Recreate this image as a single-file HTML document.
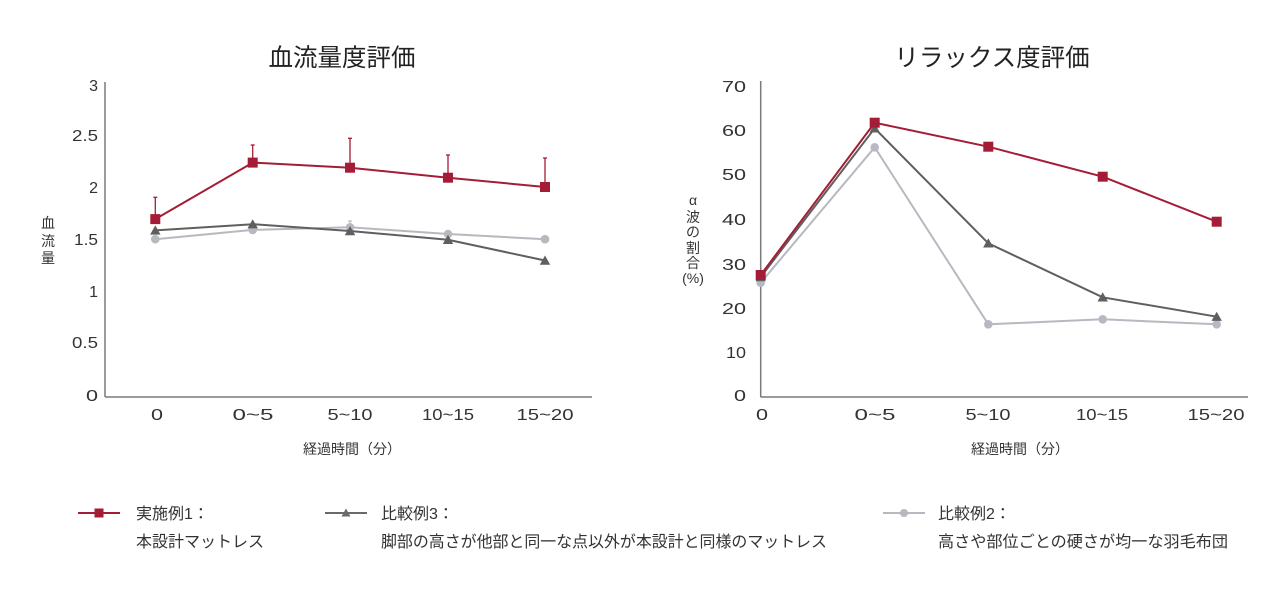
<!DOCTYPE html>
<html><head><meta charset="utf-8">
<style>
html,body{margin:0;padding:0;background:#fff;}
svg{display:block;}
.t{font-family:"Liberation Sans","Noto Sans CJK JP",sans-serif;}
</style></head>
<body>
<svg width="1280" height="600" viewBox="0 0 1280 600" xmlns="http://www.w3.org/2000/svg">
<g class="t">
<!-- Titles -->
<text x="342" y="66" font-size="24.5" text-anchor="middle" fill="#222" class="t">血流量度評価</text>
<text x="992" y="66" font-size="24.5" text-anchor="middle" fill="#222" class="t">リラックス度評価</text>

<!-- LEFT CHART axes -->
<line x1="105" y1="82" x2="105" y2="397" stroke="#7a7a7a" stroke-width="1.5"/>
<line x1="105" y1="397" x2="592" y2="397" stroke="#7a7a7a" stroke-width="1.5"/>
<g font-size="16" fill="#333" text-anchor="end" class="t">
<text x="98" y="91">3</text>
<text x="98" y="141" textLength="26" lengthAdjust="spacingAndGlyphs">2.5</text>
<text x="98" y="193">2</text>
<text x="98" y="245" textLength="24" lengthAdjust="spacingAndGlyphs">1.5</text>
<text x="98" y="297">1</text>
<text x="98" y="348" textLength="26" lengthAdjust="spacingAndGlyphs">0.5</text>
<text x="98" y="401" textLength="12" lengthAdjust="spacingAndGlyphs">0</text>
</g>
<g font-size="16" fill="#333" text-anchor="middle" class="t">
<text x="157" y="420" textLength="12" lengthAdjust="spacingAndGlyphs">0</text>
<text x="253" y="420" textLength="41" lengthAdjust="spacingAndGlyphs">0~5</text>
<text x="350" y="420" textLength="45" lengthAdjust="spacingAndGlyphs">5~10</text>
<text x="448" y="420" textLength="52" lengthAdjust="spacingAndGlyphs">10~15</text>
<text x="545" y="420" textLength="57" lengthAdjust="spacingAndGlyphs">15~20</text>
</g>
<text x="352" y="454" font-size="14" text-anchor="middle" fill="#333" class="t">経過時間（分）</text>
<g font-size="14" fill="#333" text-anchor="middle" class="t">
<text x="48" y="228">血</text>
<text x="48" y="246">流</text>
<text x="48" y="263">量</text>
</g>

<!-- left error bars -->
<g stroke="#a51c36" stroke-width="1.3">
<line x1="155.3" y1="219" x2="155.3" y2="197.3"/><line x1="153.3" y1="197.3" x2="157.3" y2="197.3"/>
<line x1="252.7" y1="162.6" x2="252.7" y2="145"/><line x1="250.7" y1="145" x2="254.7" y2="145"/>
<line x1="350" y1="167.7" x2="350" y2="138.3"/><line x1="348" y1="138.3" x2="352" y2="138.3"/>
<line x1="448" y1="177.7" x2="448" y2="155"/><line x1="446" y1="155" x2="450" y2="155"/>
<line x1="545" y1="187" x2="545" y2="158"/><line x1="543" y1="158" x2="547" y2="158"/>
</g>
<g stroke="#c0c0c8" stroke-width="1.3">
<line x1="350" y1="227" x2="350" y2="221"/><line x1="348" y1="221" x2="352" y2="221"/>
</g>

<!-- left light series -->
<polyline points="155.3,239.2 252.7,229.9 350,227.3 448,234 545,239.2" fill="none" stroke="#b8b8c0" stroke-width="2"/>
<g fill="#b8b8c0">
<circle cx="155.3" cy="239.2" r="4.3"/><circle cx="252.7" cy="229.9" r="4.3"/><circle cx="350" cy="227.3" r="4.3"/><circle cx="448" cy="234" r="4.3"/><circle cx="545" cy="239.2" r="4.3"/>
</g>
<!-- left dark series -->
<polyline points="155.3,230.4 252.7,224.2 350,231 448,239.8 545,260.5" fill="none" stroke="#5f5f5f" stroke-width="2"/>
<g fill="#5f5f5f">
<polygon points="155.3,225.4 160.5,234.6 150.1,234.6"/>
<polygon points="252.7,219.2 257.9,228.4 247.5,228.4"/>
<polygon points="350,226 355.2,235.2 344.8,235.2"/>
<polygon points="448,234.8 453.2,244 442.8,244"/>
<polygon points="545,255.5 550.2,264.7 539.8,264.7"/>
</g>
<!-- left red series -->
<polyline points="155.3,219.1 252.7,162.6 350,167.7 448,177.7 545,187" fill="none" stroke="#a51c36" stroke-width="2"/>
<g fill="#a51c36">
<rect x="150.3" y="214.1" width="10" height="10"/>
<rect x="247.7" y="157.6" width="10" height="10"/>
<rect x="345" y="162.7" width="10" height="10"/>
<rect x="443" y="172.7" width="10" height="10"/>
<rect x="540" y="182" width="10" height="10"/>
</g>

<!-- RIGHT CHART axes -->
<line x1="760.7" y1="81" x2="760.7" y2="397" stroke="#7a7a7a" stroke-width="1.5"/>
<line x1="760.7" y1="397" x2="1248" y2="397" stroke="#7a7a7a" stroke-width="1.5"/>
<g font-size="16" fill="#333" text-anchor="end" class="t">
<text x="746" y="92" textLength="24" lengthAdjust="spacingAndGlyphs">70</text>
<text x="746" y="136" textLength="24" lengthAdjust="spacingAndGlyphs">60</text>
<text x="746" y="180" textLength="24" lengthAdjust="spacingAndGlyphs">50</text>
<text x="746" y="225" textLength="24" lengthAdjust="spacingAndGlyphs">40</text>
<text x="746" y="270" textLength="24" lengthAdjust="spacingAndGlyphs">30</text>
<text x="746" y="314" textLength="24" lengthAdjust="spacingAndGlyphs">20</text>
<text x="746" y="358" textLength="20" lengthAdjust="spacingAndGlyphs">10</text>
<text x="746" y="401" textLength="12" lengthAdjust="spacingAndGlyphs">0</text>
</g>
<g font-size="16" fill="#333" text-anchor="middle" class="t">
<text x="762" y="420" textLength="12" lengthAdjust="spacingAndGlyphs">0</text>
<text x="875" y="420" textLength="41" lengthAdjust="spacingAndGlyphs">0~5</text>
<text x="988" y="420" textLength="45" lengthAdjust="spacingAndGlyphs">5~10</text>
<text x="1102" y="420" textLength="52" lengthAdjust="spacingAndGlyphs">10~15</text>
<text x="1216" y="420" textLength="57" lengthAdjust="spacingAndGlyphs">15~20</text>
</g>
<text x="1020" y="454" font-size="14" text-anchor="middle" fill="#333" class="t">経過時間（分）</text>
<g font-size="14" fill="#333" text-anchor="middle" class="t">
<text x="693" y="205">α</text>
<text x="693" y="222">波</text>
<text x="693" y="237">の</text>
<text x="693" y="253">割</text>
<text x="693" y="268">合</text>
<text x="693" y="283" font-size="14">(%)</text>
</g>

<!-- right light -->
<polyline points="760.7,282.7 874.7,147.3 988.3,324.3 1102.7,319.3 1216.7,324.3" fill="none" stroke="#b8b8c0" stroke-width="2"/>
<g fill="#b8b8c4">
<circle cx="760.7" cy="282.7" r="4.3"/><circle cx="874.7" cy="147.3" r="4.3"/><circle cx="988.3" cy="324.3" r="4.3"/><circle cx="1102.7" cy="319.3" r="4.3"/><circle cx="1216.7" cy="324.3" r="4.3"/>
</g>
<!-- right dark -->
<polyline points="760.7,277 874.7,128.3 988.3,243.3 1102.7,297.3 1216.7,316.7" fill="none" stroke="#5f5f5f" stroke-width="2"/>
<g fill="#5f5f5f">
<polygon points="760.7,272 765.9,281.2 755.5,281.2"/>
<polygon points="874.7,123.3 879.9,132.5 869.5,132.5"/>
<polygon points="988.3,238.3 993.5,247.5 983.1,247.5"/>
<polygon points="1102.7,292.3 1107.9,301.5 1097.5,301.5"/>
<polygon points="1216.7,311.7 1221.9,320.9 1211.5,320.9"/>
</g>
<!-- right red -->
<polyline points="760.7,275 874.7,122.7 988.3,146.7 1102.7,176.7 1216.7,221.7" fill="none" stroke="#a51c36" stroke-width="2"/>
<g fill="#a51c36">
<rect x="755.7" y="270" width="10" height="10"/>
<rect x="869.7" y="117.7" width="10" height="10"/>
<rect x="983.3" y="141.7" width="10" height="10"/>
<rect x="1097.7" y="171.7" width="10" height="10"/>
<rect x="1211.7" y="216.7" width="10" height="10"/>
</g>

<!-- LEGEND -->
<line x1="78" y1="513" x2="120" y2="513" stroke="#a51c36" stroke-width="2"/>
<rect x="94.5" y="508.5" width="9" height="9" fill="#a51c36"/>
<text x="136" y="519" font-size="16" fill="#333" class="t">実施例1：</text>
<text x="136" y="547" font-size="16" fill="#333" class="t">本設計マットレス</text>

<line x1="325" y1="513" x2="367" y2="513" stroke="#6a6a6a" stroke-width="2"/>
<polygon points="346,508.5 350.5,516.5 341.5,516.5" fill="#6a6a6a"/>
<text x="381" y="519" font-size="16" fill="#333" class="t">比較例3：</text>
<text x="381" y="547" font-size="16" fill="#333" class="t" textLength="446" lengthAdjust="spacingAndGlyphs">脚部の高さが他部と同一な点以外が本設計と同様のマットレス</text>

<line x1="883" y1="513" x2="925" y2="513" stroke="#b8b8c0" stroke-width="2"/>
<circle cx="904" cy="513" r="4" fill="#b8b8c0"/>
<text x="938" y="519" font-size="16" fill="#333" class="t">比較例2：</text>
<text x="938" y="547" font-size="16" fill="#333" class="t" textLength="290" lengthAdjust="spacingAndGlyphs">高さや部位ごとの硬さが均一な羽毛布団</text>
</g>
</svg>
</body></html>
